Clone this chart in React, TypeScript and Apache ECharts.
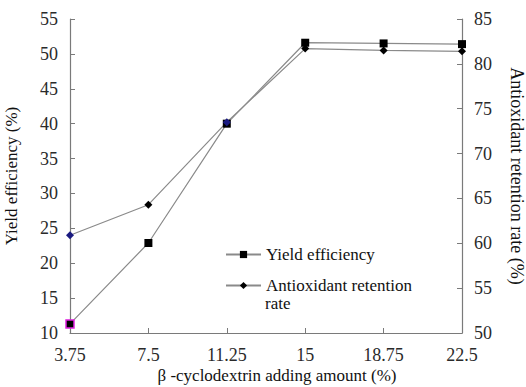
import React, { useEffect, useRef } from "react";
import * as echarts from "echarts";

const xValues = [3.75, 7.5, 11.25, 15, 18.75, 22.5];
const yieldEfficiency = [11.3, 22.9, 40.0, 51.6, 51.5, 51.4];
const antioxidantRetention = [60.9, 64.3, 73.5, 81.7, 81.5, 81.4];

const FONT = "Times New Roman, Liberation Serif, DejaVu Serif, serif";

export default function App() {
  const ref = useRef<HTMLDivElement>(null);
  useEffect(() => {
    if (!ref.current) return;
    const chart = echarts.init(ref.current, undefined, { renderer: "svg" });
    const axisLine = { show: true, lineStyle: { color: "#7a7a7a", width: 1.2 } };
    const axisLabel = { color: "#2a2a2a", fontFamily: FONT, fontSize: 18 };
    chart.setOption({
      animation: false,
      backgroundColor: "#ffffff",
      textStyle: { fontFamily: FONT },
      grid: { left: 70, right: 64, top: 19, bottom: 54, outerBoundsMode: "none" },
      legend: {
        orient: "vertical",
        left: 225,
        top: 240,
        padding: 0,
        itemWidth: 35,
        itemHeight: 9,
        itemGap: 2,
        textStyle: { color: "#111", fontFamily: FONT, fontSize: 17, lineHeight: 17, padding: [12, 0, 0, 0] },
        formatter: (name: string) => (name === "Antioxidant retention rate" ? "Antioxidant retention" : name),
        data: [{ name: "Yield efficiency" }, { name: "Antioxidant retention rate" }],
      },
      graphic: [
        {
          type: "text",
          left: 265,
          top: 295,
          style: { text: "rate", fill: "#111", font: `17px ${FONT}` },
        },
      ],
      xAxis: {
        type: "value",
        min: 3.75,
        max: 22.5,
        interval: 3.75,
        axisLine,
        axisTick: { show: true, inside: true, length: 5, lineStyle: { color: "#7a7a7a" } },
        splitLine: { show: false },
        axisLabel: { ...axisLabel, margin: 13, formatter: (v: number) => String(v) },
        name: "β -cyclodextrin adding amount (%)",
        nameLocation: "middle",
        nameGap: 34,
        nameMoveOverlap: false,
        nameTextStyle: { color: "#111", fontFamily: FONT, fontSize: 17, padding: [0, 0, 0, 22] },
      },
      yAxis: [
        {
          type: "value",
          min: 10,
          max: 55,
          interval: 5,
          axisLine,
          axisTick: { show: true, inside: true, length: 5, lineStyle: { color: "#7a7a7a" } },
          splitLine: { show: false },
          axisLabel: { ...axisLabel, margin: 12 },
          name: "Yield efficiency (%)",
          nameLocation: "middle",
          nameGap: 50,
          nameTextStyle: { color: "#111", fontFamily: FONT, fontSize: 17 },
        },
        {
          type: "value",
          min: 50,
          max: 85,
          interval: 5,
          position: "right",
          axisLine,
          axisTick: { show: true, inside: true, length: 5, lineStyle: { color: "#7a7a7a" } },
          splitLine: { show: false },
          axisLabel: { ...axisLabel, margin: 12 },
          name: "Antioxidant retention rate (%)",
          nameLocation: "middle",
          nameRotate: -90,
          nameGap: 46,
          nameTextStyle: { color: "#111", fontFamily: FONT, fontSize: 18 },
        },
      ],
      series: [
        {
          name: "Yield efficiency",
          type: "line",
          yAxisIndex: 0,
          symbol: "rect",
          symbolSize: 8,
          lineStyle: { color: "#8a8a8a", width: 1.2 },
          itemStyle: { color: "#000" },
          data: xValues.map((x, i) =>
            i === 0
              ? { value: [x, yieldEfficiency[i]], itemStyle: { color: "#000", borderColor: "#e020e0", borderWidth: 1.5 } }
              : { value: [x, yieldEfficiency[i]] }
          ),
        },
        {
          name: "Antioxidant retention rate",
          type: "line",
          yAxisIndex: 1,
          symbol: "diamond",
          symbolSize: 8,
          lineStyle: { color: "#8a8a8a", width: 1.2 },
          itemStyle: { color: "#000" },
          data: xValues.map((x, i) =>
            i === 0 || i === 2
              ? { value: [x, antioxidantRetention[i]], itemStyle: { color: "#1a1a80" } }
              : { value: [x, antioxidantRetention[i]] }
          ),
        },
      ],
    });
    return () => chart.dispose();
  }, []);
  return <div ref={ref} style={{ width: 526, height: 387, position: "absolute", left: 0, top: 0 }} />;
}
